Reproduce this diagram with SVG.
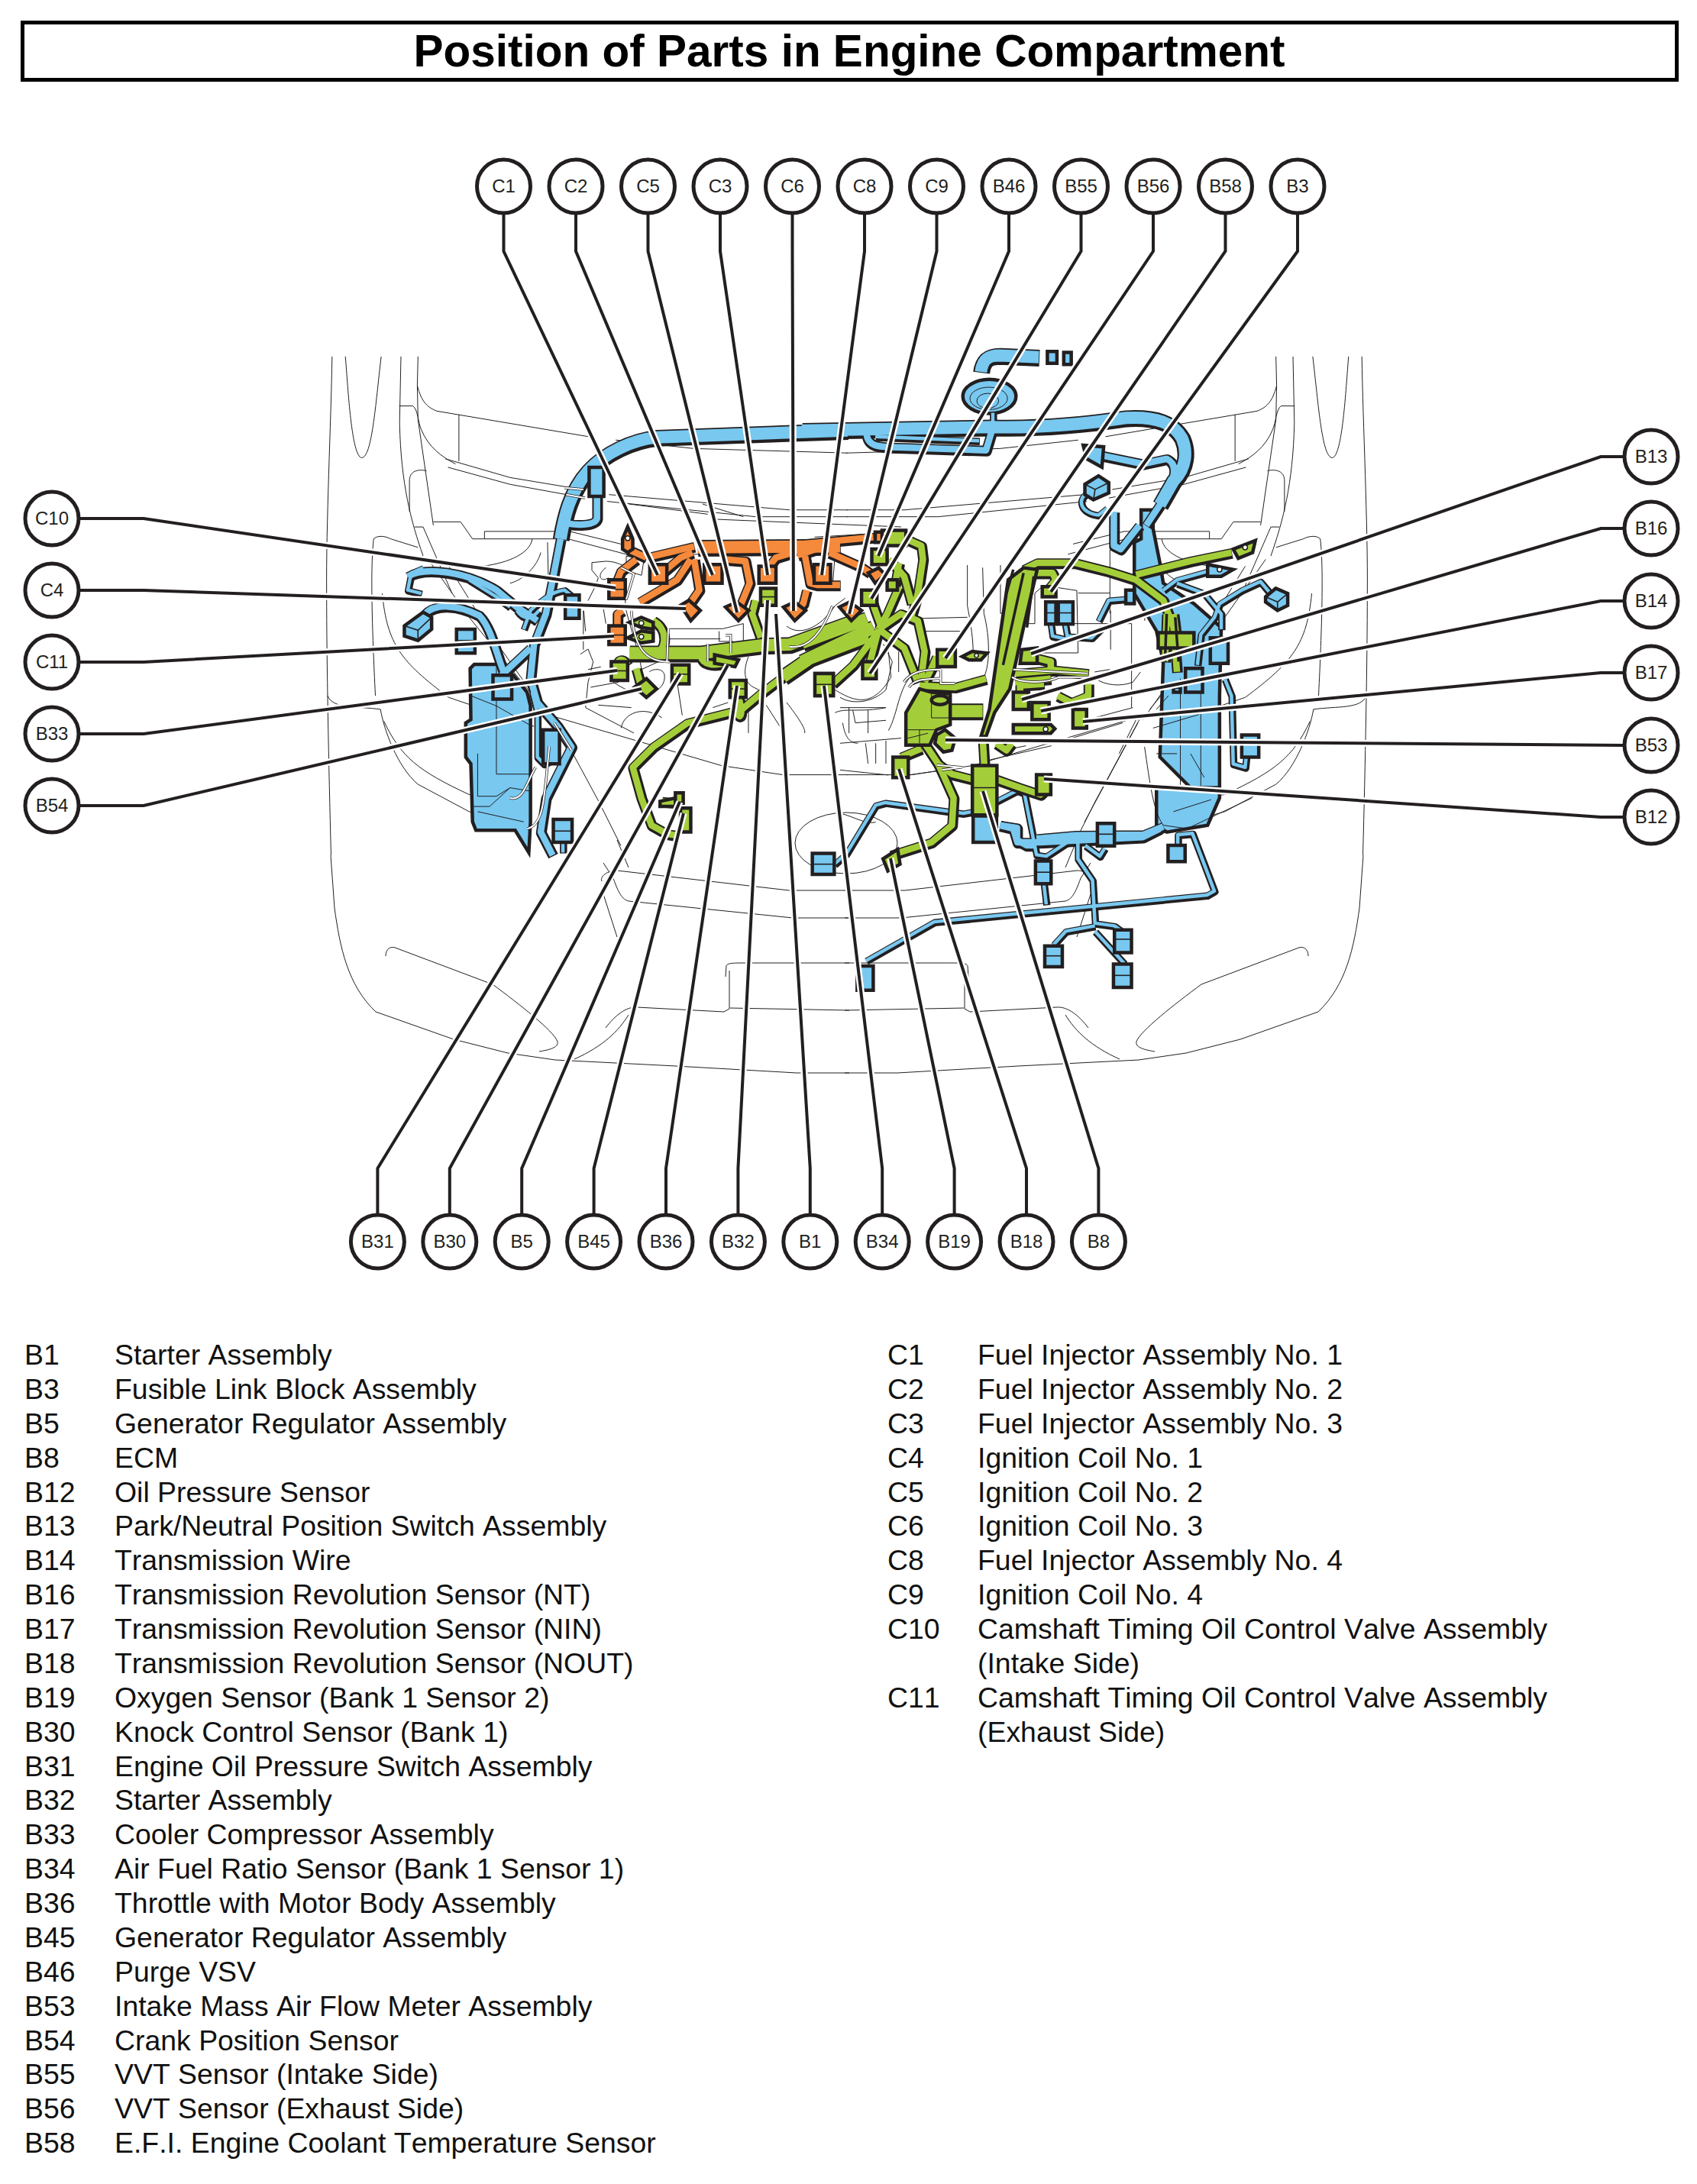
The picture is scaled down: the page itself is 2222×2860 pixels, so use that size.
<svg xmlns="http://www.w3.org/2000/svg" xmlns:xlink="http://www.w3.org/1999/xlink" width="2222" height="2860" viewBox="0 0 2222 2860">
<style>
*{vector-effect:non-scaling-stroke}
.t{fill:none;stroke:#231f20;stroke-width:1}
.d{fill:none;stroke:#231f20;stroke-width:1.600}
.ca{fill:none;stroke:#231f20;stroke-linejoin:round}
.L{stroke-width:22}.M{stroke-width:14}.S{stroke-width:9.500}
.fL{stroke-width:16}.fM{stroke-width:8.500}.fS{stroke-width:4.500}
.fb{fill:none;stroke:#78c8f0;stroke-linejoin:round}
.fg{fill:none;stroke:#a4ce39;stroke-linejoin:round}
.fo{fill:none;stroke:#f58a3c;stroke-linejoin:round}
.cb{fill:#78c8f0;stroke:#231f20;stroke-width:4.500;stroke-linejoin:miter}
.cg{fill:#a4ce39;stroke:#231f20;stroke-width:4.500;stroke-linejoin:miter}
.co{fill:#f58a3c;stroke:#231f20;stroke-width:4.500;stroke-linejoin:miter}
.tb{fill:none;stroke:#231f20;stroke-width:3.500}
.tw{fill:none;stroke:#fff;stroke-width:2}
.h{fill:#fff;stroke:#231f20;stroke-width:1.500}
.halo{fill:none;stroke:#fff;stroke-width:9;stroke-linejoin:miter}
.lead{fill:none;stroke:#231f20;stroke-width:4;stroke-linejoin:miter}
.n circle{fill:#fff;stroke:#231f20;stroke-width:5}
.n text{font:24px "Liberation Sans",Arial,sans-serif;fill:#231f20;text-anchor:middle}
.lg text{font:37.400px "Liberation Sans",Arial,sans-serif;font-kerning:none;fill:#111}
</style>
<defs>
<g id="bL">
<g transform="translate(400,420) scale(.4464)">
<path d="M1590,322 L1030,342 C960,350 880,385 830,440 C775,500 758,580 748,640"/>
</g>
<g transform="translate(1050,420) scale(.4464)">
<path d="M0,322 L560,312 C700,315 850,300 950,285 C1040,280 1090,300 1115,345 C1130,380 1130,430 1090,470 L1050,540"/>
<path d="M525,150 C530,110 550,102 580,102 L695,107"/>
</g>
</g>
<g id="bM">
<g transform="translate(400,420) scale(.4464)">
<path d="M748,640 L725,760 L705,860 L670,950 L660,1050 L680,1120 L740,1190 L780,1250 L740,1330 L705,1400 L690,1500 L725,1568"/>
<path d="M300,750 C350,720 470,735 560,790 L620,840 L680,880"/>
<path d="M350,860 C380,830 440,830 510,865 C545,900 560,980 585,1040"/>
<path d="M660,960 L575,1040"/>
<path d="M855,490 L855,580 C850,600 800,600 770,595"/>
</g>
<g transform="translate(1050,420) scale(.4464)">
<path d="M190,335 C195,375 240,370 300,372 L540,380 L558,320"/>
<path d="M880,395 L1000,420 L1070,405 C1100,420 1095,450 1080,480 L1050,540 L1010,600"/>
<path d="M915,560 L915,660 L935,670 L990,600"/>
<path d="M580,1480 L620,1490 L632,1530 L700,1530 L1000,1515 L1050,1490"/>
</g>
<g transform="translate(700,900) scale(.638,.351)">
<path d="M955,515 L990,525 L990,570 L1010,590 L1030,590"/>
<path d="M1030,565 L1110,552 L1250,550 L1290,520"/>
</g>
</g>
<g id="bS">
<g transform="translate(400,420) scale(.4464)">
<path d="M790,815 L760,790 C720,795 690,820 660,850 L640,905"/>
<path d="M620,850 C640,880 665,875 685,850"/>
<path d="M345,725 L310,740 L300,790 L340,800"/>
<path d="M665,1090 L680,1150 L680,1280 L700,1300 L720,1290"/>
<path d="M755,1530 L755,1560"/>
<path d="M480,760 L560,810 L600,840"/>
</g>
<g transform="translate(1050,420) scale(.4464)">
<path d="M215,340 L520,352"/>
<path d="M840,505 C805,520 815,565 870,570 L895,550"/>
<path d="M730,890 L735,925 L780,935 L772,890"/>
<path d="M780,925 L850,930 L880,900"/>
<path d="M870,880 L900,820 L960,815"/>
<path d="M1190,735 L1100,760 L1060,790"/>
<path d="M1100,770 L1180,800 L1230,860 L1230,905"/>
<path d="M1370,795 L1345,765 L1290,790 L1225,830 L1210,870 L1170,920 L1160,1010"/>
<path d="M1240,1050 L1260,1100 L1265,1300 L1300,1310 L1305,1260"/>
<path d="M560,270 L560,320"/>
</g>
<g transform="translate(700,900) scale(.638,.351)">
<path d="M615,660 L640,620 L700,440 L720,430 L880,470 L910,460 L990,385 L1005,395 L1030,625 L1050,630 L1100,570"/>
<path d="M1130,590 L1160,630 L1170,600"/>
<path d="M1115,570 L1115,640 L1145,720 L1150,880 L1190,890 L1205,910"/>
<path d="M1150,890 L1090,910 L1065,960"/>
<path d="M1150,910 L1210,1030"/>
<path d="M1045,733 L1050,810"/>
<path d="M1320,590 L1320,550 L1350,545 L1370,640 L1395,760 L1380,775 L820,875 L680,1020"/>
</g>
</g>
<g id="oL">
<g transform="translate(400,420) scale(.4464)">
<path d="M1150,665 L1568,662"/>
<path d="M1440,680 L1500,660"/>
</g>
</g>
<g id="oM">
<g transform="translate(400,420) scale(.4464)">
<path d="M1000,695 L1140,662"/>
<path d="M1040,745 L1100,695 L1135,680"/>
<path d="M980,825 L1090,760 L1130,700"/>
<path d="M1140,700 L1155,790 L1120,840"/>
<path d="M1230,700 L1290,705 L1303,770 L1270,850"/>
<path d="M1360,720 L1380,695 L1430,680"/>
<path d="M1465,690 L1480,770 L1500,775 L1568,775"/>
<path d="M1470,790 L1460,830 L1430,860"/>
<path d="M915,895 L915,860 L930,850"/>
<path d="M945,670 L1000,695"/>
<path d="M915,760 L925,735 L970,700"/>
</g>
<g transform="translate(1050,420) scale(.4464)">
<path d="M0,655 L210,635"/>
<path d="M80,680 L170,720 L200,740"/>
</g>
</g>
<g id="gL">
<g transform="translate(400,420) scale(.4464)">
<path d="M950,975 L1160,975 L1340,952 L1420,950 L1600,885"/>
<path d="M1400,1045 L1480,990 L1650,925"/>
</g>
<g transform="translate(1050,420) scale(.4464)">
<path d="M0,1000 L210,900"/>
<path d="M0,945 L190,875"/>
<path d="M435,1145 L530,1145"/>
<path d="M640,745 L600,1000"/>
</g>
</g>
<g id="gM">
<g transform="translate(400,420) scale(.4464)">
<path d="M1400,1045 L1340,1090 L1280,1140 L1120,1180 L1020,1250 L960,1310 L985,1400 L1015,1480 L1060,1505 L1090,1510"/>
<path d="M1160,985 C1165,1010 1200,1015 1240,1000"/>
<path d="M945,1010 C925,980 910,1000 915,1020"/>
<path d="M970,1020 L985,1075"/>
<path d="M1020,880 C1060,900 1065,960 1020,985"/>
<path d="M1320,820 L1310,860 L1335,930"/>
<path d="M1270,1105 C1290,1170 1265,1180 1262,1120"/>
<path d="M1045,1410 L1100,1415"/>
</g>
<g transform="translate(1050,420) scale(.4464)">
<path d="M305,640 L350,660 L355,700 L340,800 L320,870"/>
<path d="M255,700 L300,750 L322,830"/>
<path d="M285,710 L270,790"/>
<path d="M195,790 L215,850 L235,905"/>
<path d="M285,780 L250,860 L225,905"/>
<path d="M225,905 L200,1000"/>
<path d="M225,910 L150,1010 L90,1065"/>
<path d="M225,905 L290,860 L340,880 L360,970 L350,1050"/>
<path d="M225,905 L300,960 L340,1060"/>
<path d="M395,985 L380,1020 L360,1060"/>
<path d="M345,1070 L450,1075 L540,1050"/>
<path d="M650,730 L690,710 L800,710 L900,735 L980,760 L1060,820 L1090,900 L1100,1030"/>
<path d="M980,745 L1140,705 L1260,680"/>
<path d="M680,740 L735,740 L745,760 L720,790"/>
<path d="M690,990 L730,1000 L730,1020"/>
<path d="M625,1035 L740,1025 L840,1035"/>
<path d="M625,1060 L730,1050"/>
<path d="M640,1090 L640,1070 L710,1065"/>
<path d="M750,1100 L790,1120 L840,1100 L840,1065"/>
<path d="M570,1240 L600,1260 L615,1240"/>
<path d="M530,1220 L535,1305"/>
<path d="M360,1240 L400,1300 L440,1330 L500,1345"/>
<path d="M350,1255 L290,1280"/>
<path d="M400,1300 L445,1400 L440,1480 L380,1530 L260,1568"/>
<path d="M570,1345 L640,1370 L700,1390 L720,1370"/>
<path d="M1070,860 L1065,1000"/>
<path d="M1090,860 L1100,940"/>
</g>
</g>
<g id="body">
<g transform="translate(400,420) scale(.4464)">
<path class="t" d="M78,105 C75,300 60,600 62,800 C62,1000 68,1300 75,1568"/>
<path class="t" d="M117,105 C125,200 135,400 165,402 C195,400 205,250 222,105"/>
<path class="t" d="M280,105 L276,300 C280,480 310,590 345,690"/>
<path class="t" d="M330,105 L328,190 C340,240 360,255 385,265 L830,340"/>
<path class="t" d="M275,250 L315,250 C330,260 330,300 340,320 C360,370 400,400 440,420"/>
<path class="t" d="M328,190 L330,290 L375,600"/>
<path class="t" d="M450,275 L450,412"/>
<path class="t" d="M410,405 L600,460 L810,495"/>
<path class="t" d="M418,430 L600,480 L820,520"/>
<path class="t" d="M305,560 L305,470 C305,440 330,435 355,440"/>
<path class="t" d="M375,590 L455,590 L490,640 L525,640 L525,618 L775,618 L925,655"/>
<path class="t" d="M525,640 L770,640 L940,685"/>
<path class="t" d="M200,640 C210,630 230,630 250,640 L330,665 M200,640 C190,720 195,900 205,1100"/>
<path class="t" d="M225,800 C240,950 280,1000 420,1105 L670,1190"/>
<path class="t" d="M65,1100 C80,1140 150,1130 220,1140 C230,1200 270,1310 330,1360 L480,1440 L620,1480"/>
<path class="t" d="M230,1175 C280,1280 330,1320 480,1390 L600,1405"/>
<path class="t" d="M345,605 L320,605 M345,605 L430,800 M360,700 L480,870 L700,1140 M420,720 L550,930 L720,1170"/>
<path class="t" d="M520,720 C600,710 660,680 665,640 M710,650 L715,880 M815,850 L815,965 M690,680 C680,720 640,760 600,770"/>
<path class="t" d="M890,510 L1420,555 L1590,555 M885,530 L1320,575 L1590,575"/>
<path class="t" d="M910,350 L1140,375 L1590,388"/>
<path class="t" d="M725,1160 L1220,1305 L1400,1332 L1590,1332"/>
<path class="t" d="M725,1160 L860,1410 L925,1540 M740,1170 L790,1270"/>
</g>
<path class="t" d="M433,1120 L438,1189 C445,1240 455,1290 492,1325 L594,1361 L665,1379 L727,1388 L885,1396 L1043,1405 L1112,1405"/>
<path class="t" d="M788,1154 C785,1148 795,1140 808,1140 L1033,1166 L1112,1166"/>
<path class="t" d="M790,1130 L803,1150 C810,1170 815,1178 823,1180 L1038,1202 L1112,1202"/>
<path class="t" d="M790,1171 L808,1227"/>
<path class="t" d="M505,1252 C505,1242 512,1238 520,1242 L645,1289 C680,1315 725,1350 730,1364 C732,1372 718,1375 706,1377"/>
<path class="t" d="M950,1279 L951,1265 C952,1261 960,1261 977,1261 L1112,1261"/>
<path class="t" d="M955,1271 L955,1321 L948,1325 L834,1319 C820,1318 805,1330 793,1346"/>
<path class="t" d="M956,1320 L1112,1323"/>
<path class="t" d="M823,1329 C810,1350 790,1370 752,1387"/>
<path class="t" d="M808,1100 L823,1136"/>
</g>
<g id="leaders">
<path d="M659.500,281 V329 L861,753"/><path d="M754,281 V329 L933,753"/><path d="M848.500,281 V329 L965,802"/><path d="M943,281 V329 L1005,753"/><path d="M1037.500,281 V329 L1039,800"/><path d="M1132,281 V329 L1076,753"/><path d="M1226.500,281 V329 L1112,804"/><path d="M1321,281 V329 L1150,728"/><path d="M1415.500,281 V329 L1141,784"/><path d="M1510,281 V329 L1139,882"/><path d="M1604.500,281 V329 L1238,862"/><path d="M1699,281 V329 L1376,775"/>
<path d="M105,679 H188 L806,770"/><path d="M105,773 H188 L898,797"/><path d="M105,867 H188 L804,833"/><path d="M105,961 H188 L808,878"/><path d="M105,1055 H188 L840,902"/>
<path d="M2125,598 H2096 L1350,856"/><path d="M2125,692 H2096 L1338,916"/><path d="M2125,787 H2096 L1363,931"/><path d="M2125,881 H2096 L1418,945"/><path d="M2125,976 L1238,969"/><path d="M2125,1070 H2096 L1367,1020"/>
<path d="M494.400,1589 V1530 L891,882"/><path d="M588.800,1589 V1530 L953,871"/><path d="M683.200,1589 V1530 L890,1050"/><path d="M777.600,1589 V1530 L895,1065"/><path d="M872,1589 V1530 L965,898"/><path d="M966.400,1589 V1530 L1005,786"/><path d="M1060.800,1589 V1530 L1016,804"/><path d="M1155.200,1589 V1530 L1079,898"/><path d="M1249.600,1589 V1530 L1166,1124"/><path d="M1344,1589 V1530 L1177,1007"/><path d="M1438.400,1589 V1530 L1287,1036"/>
</g>
</defs>
<g id="title">
<rect x="29.500" y="29.500" width="2166" height="75" fill="#fff" stroke="#000" stroke-width="5"/>
<text x="1112" y="87" font-family="'Liberation Sans',Arial,sans-serif" font-weight="bold" font-size="58.500" text-anchor="middle" fill="#000">Position of Parts in Engine Compartment</text>
</g>
<g id="car-body">
<use href="#body" xlink:href="#body"/>
<use href="#body" xlink:href="#body" transform="translate(2218,0) scale(-1,1)"/>
<ellipse class="t" cx="1108" cy="1104" rx="67" ry="40"/>
</g>
<g id="engine-detail">
<g transform="translate(760,660) scale(.3333)">
<path class="t" d="M45,230 L100,225 C150,225 170,250 180,240 L180,205 L250,215 L240,280 L170,260 M45,230 L45,260 L70,290 L60,320 L30,380 M175,370 L180,420 C200,500 230,580 240,650 L350,600"/>
<path class="t" d="M0,590 L30,570 L50,620 L30,700 L20,800 M30,650 L80,640 M350,490 L560,490 L640,470 L640,540 M350,530 L550,530 M545,500 L545,540 L600,540 L600,590"/>
<path class="t" d="M810,480 C860,520 940,490 1000,400 L1040,370 M820,560 L950,540 M320,840 C250,790 170,820 160,880 M40,720 L150,700 M70,790 L200,800 M400,830 L380,700"/>
<path class="t" d="M660,600 C640,650 640,700 680,720 L700,730 M810,780 C850,830 890,890 880,900 M1000,820 C1040,800 1100,820 1200,800 M1055,800 L1055,900 M1130,810 L1130,900 M1000,730 C1080,780 1150,800 1220,680 L1210,580"/>
<path class="t" d="M100,250 C60,280 80,310 110,290 M90,410 L100,470 M13,420 L20,500 M130,700 C240,780 340,740 330,670 C320,640 280,650 270,660 M20,800 L210,900 M520,800 L580,780 M660,780 L660,900 M730,790 L800,900 M340,200 L820,190 M920,130 L1260,110 M990,330 L1000,200 M830,240 L830,260"/>
<path class="t" d="M480,0 L640,50 M190,0 L500,40 M530,60 L1260,90"/>
</g>
<g transform="translate(1100,680) scale(.3333)">
<path class="t" d="M500,180 L500,340 C510,390 530,500 520,560 M560,190 L565,370 C590,470 590,580 560,630 C530,650 450,660 340,660 M630,180 L630,370 C650,370 680,340 680,250"/>
<path class="t" d="M310,440 L500,440 M290,390 L500,385 M705,410 L765,410 L765,290 L800,260 L930,280 L935,525 L770,525 M935,290 L1060,290 M915,410 L1145,410 L1145,740 M1060,120 L1060,370"/>
<path class="t" d="M190,830 C230,760 230,640 300,600 M0,740 L180,740 M50,750 L60,800 L180,790 M0,880 L240,860 M100,880 L110,960 M140,880 L140,960 M0,985 L190,1005 M270,1005 L480,975"/>
<path class="t" d="M590,945 L830,890 M910,860 L1110,800 M1000,780 L1150,740 M960,1190 L1170,800 M620,890 L630,910 L730,890 M1010,630 C1040,650 1100,660 1150,640 L1180,600 M1000,600 L1060,590"/>
<path class="t" d="M0,1155 C60,1170 100,1200 140,1190 M10,800 C20,860 40,880 70,880 M180,870 L180,960 M0,700 C50,730 130,720 180,670 L205,560 L170,490 M230,520 L230,600"/>
</g>
</g>
<g id="ecu-blue">
<g transform="translate(400,420) scale(.4464)">
<path class="cb" d="M483,1020 L495,1008 L560,1008 L610,1040 L650,1090 L660,1130 L660,1470 L655,1560 L615,1495 L500,1495 L490,1470 L485,1300 L470,1280 L470,1180 L485,1170 Z"/>
<path class="t" d="M560,1008 L560,1330 L660,1330 M505,1270 L505,1395 L560,1395 L600,1370 L660,1380 M485,1425 L540,1425 L600,1370 M505,1440 L640,1470 M485,1100 L560,1130 L665,1190"/>
</g>
<g transform="translate(1050,420) scale(.4464)">
<path class="cb" d="M995,555 L1030,555 L1030,610 L1050,710 L1060,770 L1150,830 L1230,900 L1225,1100 L1225,1370 L1140,1370 L1050,1280 L1060,1000 L1040,910 L975,800 L975,650 L995,640 Z"/>
<path class="cb" d="M1040,1372 L1225,1372 L1225,1400 L1190,1480 L1070,1500 L1040,1480 Z"/>
<path class="t" d="M1110,1050 L1110,1370 M1170,1090 L1170,1370 M1090,1440 L1200,1405 M1140,1270 L1180,1340 M1040,1270 L1100,1270"/>
<path class="t" d="M1040,1140 L1075,1100 M1030,1195 L1165,1155 M1005,1250 C1020,1350 1030,1440 1060,1480 L1130,1490 L1320,1400"/>
<ellipse class="cb" cx="550" cy="222" rx="78" ry="50"/>
<ellipse class="t" cx="548" cy="228" rx="55" ry="33"/><ellipse class="t" cx="545" cy="235" rx="32" ry="22"/>
</g>
</g>
<g id="wires">
<g class="ca L" transform="translate(.8,1.2)"><use href="#bL" xlink:href="#bL"/></g>
<g class="ca M" transform="translate(.8,1.2)"><use href="#bM" xlink:href="#bM"/></g>
<g class="ca S" transform="translate(.8,1.2)"><use href="#bS" xlink:href="#bS"/></g>
<g class="fb fL"><use href="#bL" xlink:href="#bL"/></g>
<g class="fb fM"><use href="#bM" xlink:href="#bM"/></g>
<g class="fb fS"><use href="#bS" xlink:href="#bS"/></g>
<g class="ca L" transform="translate(.8,1.2)"><use href="#oL" xlink:href="#oL"/></g>
<g class="ca M" transform="translate(.8,1.2)"><use href="#oM" xlink:href="#oM"/></g>
<g class="fo fL"><use href="#oL" xlink:href="#oL"/></g>
<g class="fo fM"><use href="#oM" xlink:href="#oM"/></g>
<g class="ca L" transform="translate(.8,1.2)"><use href="#gL" xlink:href="#gL"/></g>
<g class="ca M" transform="translate(.8,1.2)"><use href="#gM" xlink:href="#gM"/></g>
<g class="fg fL"><use href="#gL" xlink:href="#gL"/></g>
<g class="fg fM"><use href="#gM" xlink:href="#gM"/></g>
</g>
<g id="parts-blue">
<g transform="translate(400,420) scale(.4464)">
<path class="cb" d="M832,430 H875 V515 H832 Z"/>
<path class="cb" d="M762,805 H803 V873 H762 Z"/>
<path class="cb" d="M443,905 H497 V975 H443 Z"/><path class="d" d="M443,938 H497"/>
<path class="cb" d="M550,1040 H605 V1110 H550 Z"/>
<path class="cb" d="M290,895 L345,855 L370,870 L370,905 L330,938 L290,925 Z"/><path class="d" d="M290,895 L330,908 L370,870 M330,908 L330,938"/>
<path class="cb" d="M697,1200 H745 V1300 H697 Z"/>
<path class="cb" d="M727,1463 H782 V1530 H727 Z"/><path class="d" d="M727,1497 H782"/>
</g>
<g transform="translate(1050,420) scale(.4464)">
<path class="cb" d="M720,90 H748 V125 H720 Z"/>
<path class="cb" d="M768,93 H790 V128 H768 Z"/>
<path class="cb" d="M825,365 L885,370 L880,430 L835,405 Z"/>
<path class="cb" d="M830,480 L870,455 L900,475 L900,505 L855,525 L830,510 Z"/><path class="d" d="M830,480 L860,495 L900,475 M860,495 L855,525"/>
<path class="cb" d="M715,825 H745 V890 H715 Z"/><path class="d" d="M715,857 H745"/>
<path class="cb" d="M752,825 H795 V890 H752 Z"/><path class="d" d="M752,857 H795"/>
<path class="cb" d="M950,790 H975 V830 H950 Z"/>
<path class="cb" d="M1190,715 L1265,730 L1230,750 L1190,750 Z"/>
<circle class="h" cx="1225" cy="730" r="7"/>
<path class="cb" d="M1360,810 L1390,785 L1425,800 L1425,835 L1395,850 L1360,825 Z"/><path class="d" d="M1360,810 L1395,825 L1425,800 M1395,825 L1395,850"/>
<path class="cb" d="M1198,930 H1250 V1005 H1198 Z"/>
<path class="cb" d="M1125,1020 H1175 V1090 H1125 Z"/>
<path class="cb" d="M1090,1075 H1110 V1090 H1090 Z"/>
<path class="cb" d="M1290,1215 H1340 V1280 H1290 Z"/>
</g>
<g transform="translate(700,900) scale(.638,.351)">
<path class="cb" d="M570,620 H615 V698 H570 Z"/><path class="d" d="M570,660 H615"/>
<path class="cb" d="M900,480 H948 V578 H900 Z"/>
<path class="cb" d="M1155,508 H1190 V592 H1155 Z"/><path class="d" d="M1155,548 H1190"/>
<path class="cb" d="M1190,905 H1225 V990 H1190 Z"/><path class="d" d="M1190,940 H1225"/>
<path class="cb" d="M1047,965 H1083 V1043 H1047 Z"/><path class="d" d="M1047,1002 H1083"/>
<path class="cb" d="M1188,1033 H1225 V1120 H1188 Z"/><path class="d" d="M1188,1075 H1225"/>
<path class="cb" d="M1028,648 H1060 V733 H1028 Z"/><path class="d" d="M1028,690 H1060"/>
<path class="cb" d="M1300,590 H1335 V650 H1300 Z"/>
<path class="cb" d="M662,1040 H695 V1130 H662 Z"/>
</g>
</g>
<g id="parts-orange">
<g transform="translate(400,420) scale(.4464)">
<path class="co" d="M1010,715 H1060 V770 H1010 Z"/>
<path class="co" d="M1170,715 H1222 V770 H1170 Z"/>
<path class="co" d="M1330,720 H1380 V770 H1330 Z"/>
<path class="co" d="M1492,715 H1540 V770 H1492 Z"/>
<path class="co" d="M890,760 H938 V815 H890 Z"/><path class="d" d="M890,788 H938"/>
<path class="co" d="M890,895 H938 V950 H890 Z"/><path class="d" d="M890,922 H938"/>
<path class="co" d="M1100,835 L1125,820 L1158,850 L1130,880 Z"/>
<path class="co" d="M1232,840 L1265,825 L1300,850 L1270,880 Z"/>
<path class="co" d="M1402,840 L1435,825 L1467,850 L1435,880 Z"/>
<path class="co" d="M930,640 L945,605 L960,640 L960,670 L945,680 L930,670 Z"/>
<circle class="h" cx="945" cy="638" r="7"/>
</g>
<g transform="translate(1050,420) scale(.4464)">
<path class="co" d="M110,840 L140,825 L175,850 L145,880 Z"/>
<path class="co" d="M195,740 L225,725 L245,745 L215,770 Z"/>
<path class="co" d="M215,620 H250 V650 H215 Z"/>
</g>
</g>
<g id="parts-green">
<g transform="translate(400,420) scale(.4464)">
<path class="cg" d="M1075,1010 H1125 V1065 H1075 Z"/><path class="d" d="M1075,1037 H1125"/>
<path class="cg" d="M1245,1055 H1292 V1105 H1245 Z"/><path class="d" d="M1245,1080 H1292"/>
<path class="cg" d="M1335,785 H1380 V835 H1335 Z"/><path class="d" d="M1335,810 H1380"/>
<path class="cg" d="M1495,1035 H1548 V1100 H1495 Z"/><path class="d" d="M1495,1067 H1548"/>
<path class="cg" d="M897,1000 H945 V1055 H897 Z"/><path class="d" d="M897,1027 H945"/>
<path class="cg" d="M965,1075 L1000,1050 L1030,1080 L1000,1105 Z"/>
<path class="cg" d="M1200,980 L1270,995 L1260,1015 L1200,1005 Z"/>
<path class="cg" d="M950,885 L985,870 L1020,885 L1020,905 L985,900 Z"/>
<path class="cg" d="M945,930 L985,910 L1020,915 L1020,940 L985,945 Z"/>
<circle class="h" cx="985" cy="887" r="7"/><circle class="h" cx="985" cy="927" r="7"/>
<path class="cg" d="M1040,1410 L1085,1400 L1085,1425 L1040,1425 Z"/>
<path class="cg" d="M1100,1430 H1130 V1500 H1100 Z"/>
<path class="cg" d="M1085,1385 H1108 V1415 H1085 Z"/>
</g>
<g transform="translate(1050,420) scale(.4464)">
<path class="cg" d="M205,670 H250 V715 H205 Z"/>
<path class="cg" d="M235,615 H305 V660 H235 Z"/>
<path class="cg" d="M175,790 H220 V835 H175 Z"/>
<path class="cg" d="M250,760 H280 V790 H250 Z"/>
<path class="cg" d="M178,1000 H218 V1050 H178 Z"/>
<path class="cg" d="M38,1035 H92 V1100 H38 Z"/><path class="d" d="M38,1067 H92"/>
<path class="cg" d="M305,1150 L345,1080 L380,1090 L435,1095 L435,1185 L395,1200 L375,1245 L305,1245 Z"/>
<path class="t" d="M380,1095 L380,1165 L435,1165 M310,1200 L395,1200 M345,1200 L345,1240 M310,1225 L370,1210"/>
<ellipse class="cg" cx="405" cy="1113" rx="25" ry="13"/>
<path class="cg" d="M525,1220 L550,1140 L605,760 L650,725 L690,730 L650,900 L610,1080 L565,1150 L540,1220 Z"/>
<path class="tb" d="M590,1010 L650,740 M600,800 L620,730 M680,750 L660,900"/>
<path class="cg" d="M397,965 H450 V1015 H397 Z"/>
<path class="cg" d="M470,985 L500,970 L543,975 L525,995 L490,995 Z"/>
<circle class="h" cx="512" cy="982" r="6"/>
<path class="cg" d="M705,780 H745 V810 H705 Z"/>
<path class="cg" d="M645,965 L690,960 L690,1005 L640,1005 Z"/>
<path class="cg" d="M620,1090 H665 V1140 H620 Z"/>
<path class="cg" d="M675,1120 H725 V1170 H675 Z"/>
<path class="cg" d="M795,1140 H835 V1195 H795 Z"/>
<path class="cg" d="M620,1185 H730 L742,1197 L730,1210 H620 Z"/>
<circle class="h" cx="715" cy="1198" r="7"/>
<path class="cg" d="M395,1215 L420,1200 L450,1225 L440,1260 L415,1265 L390,1240 Z"/>
<path class="cg" d="M267,1280 H312 V1340 H267 Z"/>
<path class="cg" d="M688,1332 H730 V1390 H688 Z"/>
<path class="cg" d="M500,1305 H572 V1450 H500 Z"/><path class="d" d="M500,1370 H572"/>
<path class="cg" d="M1045,915 H1150 V960 H1045 Z"/>
<path class="cg" d="M1265,670 L1330,645 L1322,680 L1280,697 Z"/>
<circle class="h" cx="1300" cy="665" r="7"/>
<path class="tb" d="M1070,860 L1065,1000 M1095,870 L1105,1000"/>
</g>
<g transform="translate(700,900) scale(.638,.351)">
<path class="cg" d="M715,640 L745,605 L750,660 L725,685 Z"/>
</g>
</g>
<g id="tubes">
<g transform="translate(1100,680) scale(.3333)">
<path class="tb" d="M270,660 C300,620 350,630 395,625 M250,640 C280,600 320,590 395,590 M395,590 L395,645 L450,645 M680,590 L970,605 M675,620 C700,640 800,650 860,620 L1000,620 M380,965 L480,975 M400,985 L470,975"/>
<path class="tw" d="M270,660 C300,620 350,630 395,625 M250,640 C280,600 320,590 395,590 M395,590 L395,645 L450,645 M680,590 L970,605 M675,620 C700,640 800,650 860,620 L1000,620 M380,965 L480,975 M400,985 L470,975"/>
</g>
<g transform="translate(760,660) scale(.3333)">
<path class="tb" d="M160,250 L210,275 L180,375 M200,420 C210,560 250,620 350,620 M345,490 L340,620 M500,550 L500,620 M570,515 L590,515 L590,585 M820,560 C880,570 940,530 990,400"/>
<path class="tw" d="M160,250 L210,275 L180,375 M200,420 C210,560 250,620 350,620 M345,490 L340,620 M500,550 L500,620 M570,515 L590,515 L590,585 M820,560 C880,570 940,530 990,400"/>
</g>
<g transform="translate(400,420) scale(.4464)">
<path class="tb" d="M600,1400 C640,1410 650,1350 675,1310 M650,1490 C700,1480 700,1400 715,1250 M730,1180 L780,1260 M760,490 L815,495 M765,510 L820,520"/>
<path class="tw" d="M600,1400 C640,1410 650,1350 675,1310 M650,1490 C700,1480 700,1400 715,1250 M730,1180 L780,1260 M760,490 L815,495 M765,510 L820,520"/>
</g>
</g>
<g id="connectors">
<g class="halo"><use href="#leaders" xlink:href="#leaders"/></g>
<g class="lead"><use href="#leaders" xlink:href="#leaders"/></g>
</g>
<g id="nodes">
<g class="n" id="n-C1"><circle cx="659.500" cy="244" r="35"/><text x="659.500" y="252">C1</text></g>
<g class="n" id="n-C2"><circle cx="754" cy="244" r="35"/><text x="754" y="252">C2</text></g>
<g class="n" id="n-C5"><circle cx="848.500" cy="244" r="35"/><text x="848.500" y="252">C5</text></g>
<g class="n" id="n-C3"><circle cx="943" cy="244" r="35"/><text x="943" y="252">C3</text></g>
<g class="n" id="n-C6"><circle cx="1037.500" cy="244" r="35"/><text x="1037.500" y="252">C6</text></g>
<g class="n" id="n-C8"><circle cx="1132" cy="244" r="35"/><text x="1132" y="252">C8</text></g>
<g class="n" id="n-C9"><circle cx="1226.500" cy="244" r="35"/><text x="1226.500" y="252">C9</text></g>
<g class="n" id="n-B46"><circle cx="1321" cy="244" r="35"/><text x="1321" y="252">B46</text></g>
<g class="n" id="n-B55"><circle cx="1415.500" cy="244" r="35"/><text x="1415.500" y="252">B55</text></g>
<g class="n" id="n-B56"><circle cx="1510" cy="244" r="35"/><text x="1510" y="252">B56</text></g>
<g class="n" id="n-B58"><circle cx="1604.500" cy="244" r="35"/><text x="1604.500" y="252">B58</text></g>
<g class="n" id="n-B3"><circle cx="1699" cy="244" r="35"/><text x="1699" y="252">B3</text></g>
<g class="n" id="n-C10"><circle cx="68" cy="679" r="35"/><text x="68" y="687">C10</text></g>
<g class="n" id="n-C4"><circle cx="68" cy="773" r="35"/><text x="68" y="781">C4</text></g>
<g class="n" id="n-C11"><circle cx="68" cy="867" r="35"/><text x="68" y="875">C11</text></g>
<g class="n" id="n-B33"><circle cx="68" cy="961" r="35"/><text x="68" y="969">B33</text></g>
<g class="n" id="n-B54"><circle cx="68" cy="1055" r="35"/><text x="68" y="1063">B54</text></g>
<g class="n" id="n-B13"><circle cx="2162" cy="598" r="35"/><text x="2162" y="606">B13</text></g>
<g class="n" id="n-B16"><circle cx="2162" cy="692" r="35"/><text x="2162" y="700">B16</text></g>
<g class="n" id="n-B14"><circle cx="2162" cy="787" r="35"/><text x="2162" y="795">B14</text></g>
<g class="n" id="n-B17"><circle cx="2162" cy="881" r="35"/><text x="2162" y="889">B17</text></g>
<g class="n" id="n-B53"><circle cx="2162" cy="976" r="35"/><text x="2162" y="984">B53</text></g>
<g class="n" id="n-B12"><circle cx="2162" cy="1070" r="35"/><text x="2162" y="1078">B12</text></g>
<g class="n" id="n-B31"><circle cx="494.400" cy="1626" r="35"/><text x="494.400" y="1634">B31</text></g>
<g class="n" id="n-B30"><circle cx="588.800" cy="1626" r="35"/><text x="588.800" y="1634">B30</text></g>
<g class="n" id="n-B5"><circle cx="683.200" cy="1626" r="35"/><text x="683.200" y="1634">B5</text></g>
<g class="n" id="n-B45"><circle cx="777.600" cy="1626" r="35"/><text x="777.600" y="1634">B45</text></g>
<g class="n" id="n-B36"><circle cx="872" cy="1626" r="35"/><text x="872" y="1634">B36</text></g>
<g class="n" id="n-B32"><circle cx="966.400" cy="1626" r="35"/><text x="966.400" y="1634">B32</text></g>
<g class="n" id="n-B1"><circle cx="1060.800" cy="1626" r="35"/><text x="1060.800" y="1634">B1</text></g>
<g class="n" id="n-B34"><circle cx="1155.200" cy="1626" r="35"/><text x="1155.200" y="1634">B34</text></g>
<g class="n" id="n-B19"><circle cx="1249.600" cy="1626" r="35"/><text x="1249.600" y="1634">B19</text></g>
<g class="n" id="n-B18"><circle cx="1344" cy="1626" r="35"/><text x="1344" y="1634">B18</text></g>
<g class="n" id="n-B8"><circle cx="1438.400" cy="1626" r="35"/><text x="1438.400" y="1634">B8</text></g>
</g>
<g id="legend" class="lg">
<text x="32" y="1787">B1</text><text x="150" y="1787">Starter Assembly</text>
<text x="32" y="1832">B3</text><text x="150" y="1832">Fusible Link Block Assembly</text>
<text x="32" y="1877">B5</text><text x="150" y="1877">Generator Regulator Assembly</text>
<text x="32" y="1922">B8</text><text x="150" y="1922">ECM</text>
<text x="32" y="1967">B12</text><text x="150" y="1967">Oil Pressure Sensor</text>
<text x="32" y="2011">B13</text><text x="150" y="2011">Park/Neutral Position Switch Assembly</text>
<text x="32" y="2056">B14</text><text x="150" y="2056">Transmission Wire</text>
<text x="32" y="2101">B16</text><text x="150" y="2101">Transmission Revolution Sensor (NT)</text>
<text x="32" y="2146">B17</text><text x="150" y="2146">Transmission Revolution Sensor (NIN)</text>
<text x="32" y="2191">B18</text><text x="150" y="2191">Transmission Revolution Sensor (NOUT)</text>
<text x="32" y="2236">B19</text><text x="150" y="2236">Oxygen Sensor (Bank 1 Sensor 2)</text>
<text x="32" y="2281">B30</text><text x="150" y="2281">Knock Control Sensor (Bank 1)</text>
<text x="32" y="2326">B31</text><text x="150" y="2326">Engine Oil Pressure Switch Assembly</text>
<text x="32" y="2370">B32</text><text x="150" y="2370">Starter Assembly</text>
<text x="32" y="2415">B33</text><text x="150" y="2415">Cooler Compressor Assembly</text>
<text x="32" y="2460">B34</text><text x="150" y="2460">Air Fuel Ratio Sensor (Bank 1 Sensor 1)</text>
<text x="32" y="2505">B36</text><text x="150" y="2505">Throttle with Motor Body Assembly</text>
<text x="32" y="2550">B45</text><text x="150" y="2550">Generator Regulator Assembly</text>
<text x="32" y="2595">B46</text><text x="150" y="2595">Purge VSV</text>
<text x="32" y="2640">B53</text><text x="150" y="2640">Intake Mass Air Flow Meter Assembly</text>
<text x="32" y="2685">B54</text><text x="150" y="2685">Crank Position Sensor</text>
<text x="32" y="2729">B55</text><text x="150" y="2729">VVT Sensor (Intake Side)</text>
<text x="32" y="2774">B56</text><text x="150" y="2774">VVT Sensor (Exhaust Side)</text>
<text x="32" y="2819">B58</text><text x="150" y="2819">E.F.I. Engine Coolant Temperature Sensor</text>
<text x="1162" y="1787">C1</text><text x="1280" y="1787">Fuel Injector Assembly No. 1</text>
<text x="1162" y="1832">C2</text><text x="1280" y="1832">Fuel Injector Assembly No. 2</text>
<text x="1162" y="1877">C3</text><text x="1280" y="1877">Fuel Injector Assembly No. 3</text>
<text x="1162" y="1922">C4</text><text x="1280" y="1922">Ignition Coil No. 1</text>
<text x="1162" y="1967">C5</text><text x="1280" y="1967">Ignition Coil No. 2</text>
<text x="1162" y="2011">C6</text><text x="1280" y="2011">Ignition Coil No. 3</text>
<text x="1162" y="2056">C8</text><text x="1280" y="2056">Fuel Injector Assembly No. 4</text>
<text x="1162" y="2101">C9</text><text x="1280" y="2101">Ignition Coil No. 4</text>
<text x="1162" y="2146">C10</text><text x="1280" y="2146">Camshaft Timing Oil Control Valve Assembly</text>
<text x="1280" y="2191">(Intake Side)</text>
<text x="1162" y="2236">C11</text><text x="1280" y="2236">Camshaft Timing Oil Control Valve Assembly</text>
<text x="1280" y="2281">(Exhaust Side)</text>
</g>
</svg>
